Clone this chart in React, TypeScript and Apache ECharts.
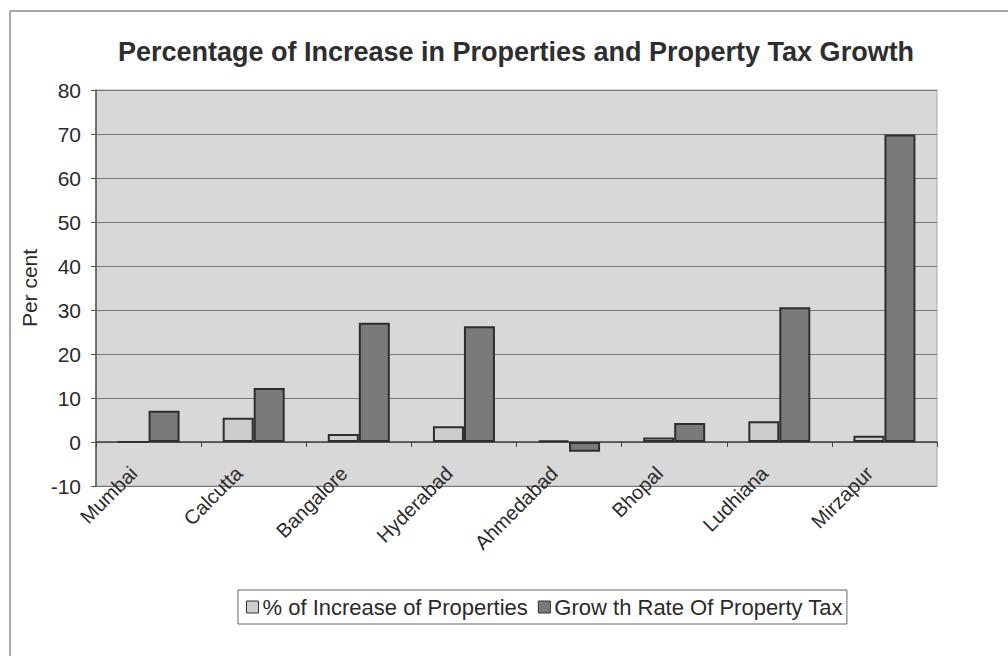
import React, { useEffect, useRef } from "react";
import * as echarts from "echarts";

const categories = ["Mumbai", "Calcutta", "Bangalore", "Hyderabad", "Ahmedabad", "Bhopal", "Ludhiana", "Mirzapur"];
const increaseOfProperties = [0, 5.5, 1.8, 3.6, 0.3, 1.0, 4.7, 1.4];
const growthRateOfPropertyTax = [7.1, 12.3, 27.1, 26.3, -2.2, 4.3, 30.6, 69.9];
const seriesNames = ["% of Increase of Properties", "Grow th Rate Of Property Tax"];
const titleText = "Percentage of Increase in Properties and Property Tax Growth";
const yAxisName = "Per cent";

export default function App() {
  const ref = useRef<HTMLDivElement>(null);
  useEffect(() => {
    document.body.style.margin = "0";
    const chart = echarts.init(ref.current!, null, { renderer: "svg" });
    const font = "'Liberation Sans', Arial, sans-serif";
    chart.setOption({
      animation: false,
      backgroundColor: "#ffffff",
      textStyle: { fontFamily: font },
      title: {
        text: titleText,
        left: 511,
        textAlign: "center",
        top: 33,
        textStyle: { fontFamily: font, fontSize: 27, fontWeight: "bold", color: "#2e2e2e" },
      },
      graphic: [
        { type: "line", shape: { x1: 10, y1: 11, x2: 1008, y2: 11 }, style: { stroke: "#8a8a8a", lineWidth: 1.5 } },
        { type: "line", shape: { x1: 10, y1: 11, x2: 10, y2: 656 }, style: { stroke: "#8a8a8a", lineWidth: 1.5 } },
      ],
      legend: {
        left: 238,
        top: 590,
        icon: "rect",
        itemWidth: 12,
        itemHeight: 12,
        itemGap: 10,
        padding: [6, 4, 6, 8],
        backgroundColor: "#ffffff",
        borderColor: "#666666",
        borderWidth: 1,
        borderRadius: 0,
        textStyle: { fontFamily: font, fontSize: 22, color: "#2a2a2a", padding: [0, 0, 0, -1] },
        data: seriesNames.map((n) => ({ name: n, itemStyle: { borderColor: "#333", borderWidth: 1 } })),
      },
      grid: {
        left: 96,
        right: 71,
        top: 90,
        bottom: 170,
        show: true,
        backgroundColor: "#d8d8d8",
        borderColor: "#aaaaaa",
        borderWidth: 1,
      },
      xAxis: {
        type: "category",
        data: categories,
        axisLine: { onZero: true, lineStyle: { color: "#444444", width: 1.5 } },
        axisTick: { show: true, alignWithLabel: false, length: 5, lineStyle: { color: "#444444" } },
        axisLabel: {
          rotate: 45,
          interval: 0,
          fontSize: 20,
          color: "#2a2a2a",
          fontFamily: font,
          margin: -31,
          padding: [0, 21, 0, 0],
        },
      },
      yAxis: {
        type: "value",
        min: -10,
        max: 80,
        interval: 10,
        name: yAxisName,
        nameLocation: "middle",
        nameGap: 56,
        nameTextStyle: { fontSize: 21, color: "#2a2a2a", fontFamily: font },
        axisLine: { show: true, lineStyle: { color: "#555555", width: 1.5 } },
        axisTick: { show: true, length: 5, lineStyle: { color: "#555555" } },
        axisLabel: { fontSize: 21, color: "#2a2a2a", fontFamily: font, margin: 15 },
        splitLine: { show: true, lineStyle: { color: "#777777", width: 1.2 } },
      },
      series: [
        {
          name: seriesNames[0],
          type: "bar",
          data: increaseOfProperties,
          barWidth: 31,
          barGap: "0%",
          itemStyle: { color: "#cdcdcd", borderColor: "#2e2e2e", borderWidth: 2 },
        },
        {
          name: seriesNames[1],
          type: "bar",
          data: growthRateOfPropertyTax,
          barWidth: 31,
          barGap: "0%",
          itemStyle: { color: "#7a7a7a", borderColor: "#2e2e2e", borderWidth: 2 },
        },
      ],
    });
    return () => chart.dispose();
  }, []);
  return <div ref={ref} style={{ width: 1008, height: 656 }} />;
}
